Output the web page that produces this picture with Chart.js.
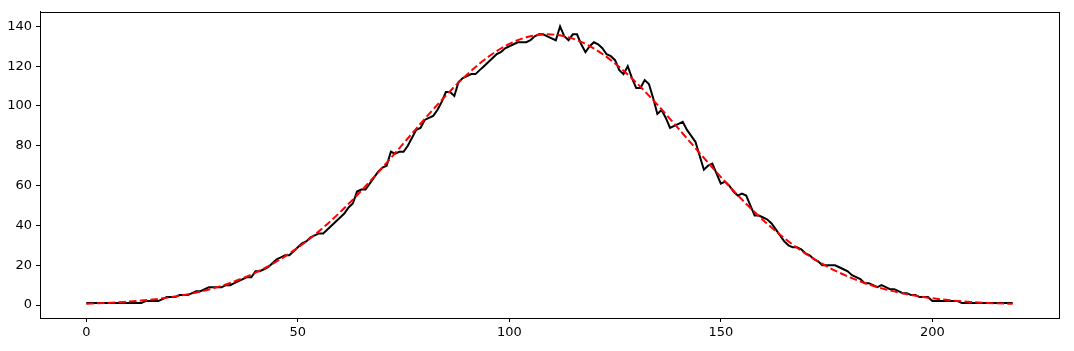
<!DOCTYPE html>
<html>
<head>
<meta charset="utf-8">
<script src="https://cdn.jsdelivr.net/npm/chart.js@4/dist/chart.umd.min.js"></script>
<style>
    html, body { margin: 0; padding: 0; background: #fff; }
    #wrap { width: 1074px; height: 351px; }
</style>
</head>
<body>
<div id="wrap"><canvas id="fit-graph" width="1074" height="351"></canvas></div>
<script>
// measured counts, one per bin (x = 0 .. 219)
const counts = [
    1, 1, 1, 1, 1, 1, 1, 1, 1, 1, 1, 1, 1, 1, 2, 2, 2, 2, 3, 4,
    4, 4, 5, 5, 5, 6, 7, 7, 8, 9, 9, 9, 9, 10, 10, 11, 12, 13, 14, 14,
    17, 17, 18, 19, 21, 23, 24, 25, 25, 27, 29, 31, 32, 34, 35, 36, 36, 38, 40, 42,
    44, 46, 49, 51, 57, 58, 58, 61, 64, 67, 69, 70, 77, 76, 77, 77, 80, 84, 88, 89,
    93, 94, 95, 98, 102, 107, 107, 105, 112, 114, 115, 116, 116, 118, 120, 122, 124, 126, 127, 129,
    130, 131, 132, 132, 132, 133, 135, 136, 136, 135, 134, 133, 140, 135, 133, 136, 136, 131, 127, 130,
    132, 131, 129, 126, 125, 123, 118, 116, 120, 114, 109, 109, 113, 111, 104, 96, 98, 94, 89, 90,
    91, 92, 88, 85, 82, 75, 68, 70, 71, 66, 61, 62, 60, 57, 55, 56, 55, 50, 45, 45,
    44, 43, 41, 38, 35, 32, 30, 29, 29, 28, 26, 25, 23, 22, 20, 20, 20, 20, 19, 18,
    17, 15, 14, 13, 11, 11, 10, 9, 10, 9, 8, 8, 7, 6, 6, 5, 5, 4, 4, 4,
    2, 2, 2, 2, 2, 2, 2, 1, 1, 1, 1, 1, 1, 1, 1, 1, 1, 1, 1, 1
];

// fitted curve
const fitX = [0, 1, 5, 9, 13, 17, 21, 25, 29, 33, 37, 41, 45, 49, 53, 57, 61, 65, 69, 73,
    77, 81, 85, 89, 93, 97, 101, 105, 109, 113, 117, 121, 125, 129, 133, 137, 141, 145, 149, 153,
    157, 161, 165, 169, 173, 177, 181, 185, 189, 193, 197, 201, 205, 209, 213, 217, 219];
const fitY = [0.68, 0.75, 1.10, 1.58, 2.24, 3.13, 4.32, 5.87, 7.86, 10.37, 13.50, 17.33, 21.93, 27.35, 33.63, 40.77, 48.72, 57.40, 66.67, 76.35,
    86.18, 95.91, 105.22, 113.80, 121.34, 127.55, 132.18, 135.03, 136.0, 135.03, 132.18, 127.55, 121.34, 113.80, 105.22, 95.91, 86.18, 76.35, 66.67, 57.40,
    48.72, 40.77, 33.63, 27.35, 21.93, 17.33, 13.50, 10.37, 7.86, 5.87, 4.32, 3.13, 2.24, 1.58, 1.10, 0.75, 0.62];

const xTicks = [0, 50, 100, 150, 200];
const yTicks = [0, 20, 40, 60, 80, 100, 120, 140];


// matplotlib style closed frame around the plot area
const frame = {
    id: 'frame',
    afterDraw(chart) {
        const {ctx, chartArea: a} = chart;
        ctx.save();
        ctx.strokeStyle = '#000';
        ctx.lineWidth = 1;
        ctx.strokeRect(Math.round(a.left) + 0.5, Math.round(a.top) + 0.5,
            Math.round(a.right - a.left), Math.round(a.bottom - a.top));
        ctx.restore();
    }
};

const tickFont = {family: 'DejaVu Sans', size: 13};

new Chart(document.getElementById('fit-graph').getContext('2d'), {
    type: 'line',
    data: {
        datasets: [{
            label: 'fit',
            data: fitX.map((x, i) => ({x: x, y: fitY[i]})),
            borderColor: '#ff0000',
            borderWidth: 2,
            borderDash: [7.5, 3.2],
            pointRadius: 0,
            cubicInterpolationMode: 'monotone',
            order: 0,
        }, {
            label: 'data',
            data: counts.map((v, i) => ({x: i, y: v})),
            borderColor: '#000000',
            borderWidth: 2,
            pointRadius: 0,
            tension: 0,
            order: 1,
        }]
    },
    options: {
        responsive: false,
        animation: false,
        layout: {padding: {left: 0, right: 15, top: 10, bottom: 0}},
        plugins: {legend: {display: false}, tooltip: {enabled: false}},
        scales: {
            x: {
                type: 'linear',
                min: -10.95,
                max: 229.95,
                afterBuildTicks: axis => { axis.ticks = xTicks.map(v => ({value: v})); },
                afterFit: axis => { axis.height = 33; },
                grid: {display: true, drawOnChartArea: false, drawTicks: true, tickLength: 4, color: '#000'},
                border: {display: true, color: '#000'},
                ticks: {color: '#000', font: tickFont, padding: 3, maxRotation: 0}
            },
            y: {
                type: 'linear',
                min: -6.49,
                max: 147.3,
                afterBuildTicks: axis => { axis.ticks = yTicks.map(v => ({value: v})); },
                afterFit: axis => { axis.width = 40; },
                grid: {display: true, drawOnChartArea: false, drawTicks: true, tickLength: 4, color: '#000'},
                border: {display: true, color: '#000'},
                ticks: {color: '#000', font: tickFont, padding: 4}
            }
        }
    },
    plugins: [frame]
});
</script>
</body>
</html>
